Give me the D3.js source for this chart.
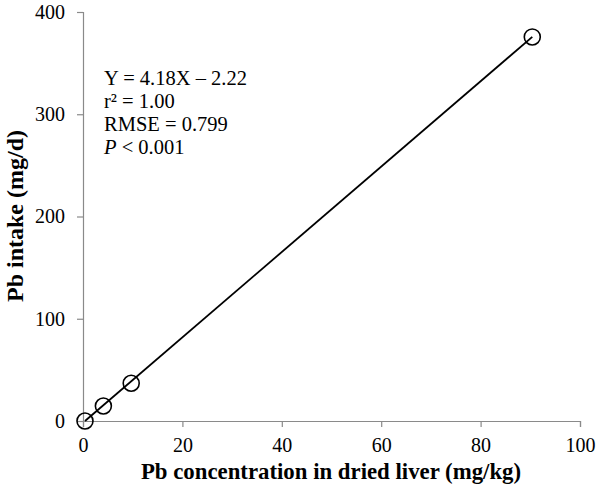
<!DOCTYPE html>
<html><head><meta charset="utf-8">
<script src="https://cdn.jsdelivr.net/npm/d3@7"></script>
<style>body{margin:0;background:#fff}svg{display:block}</style>
</head><body>
<svg id="c" width="600" height="494"></svg>
<script>
const concentration = [0.4, 4.1, 9.7, 90.4];
const intake = [0, 14.7, 36.9, 375.6];
const xTicks = [0, 20, 40, 60, 80, 100];
const yTicks = [0, 100, 200, 300, 400];
const slope = 4.18, intercept = -2.22;
const annotations = ["Y = 4.18X \u2013 2.22", "r\u00B2 = 1.00", "RMSE = 0.799", "P < 0.001"];
const xTitle = "Pb concentration in dried liver (mg/kg)";
const yTitle = "Pb intake (mg/d)";

const svg = d3.select("#c");
const font = "'Liberation Serif','Times New Roman',serif";
const x = d3.scaleLinear().domain([0, 100]).range([83, 580]);
const y = d3.scaleLinear().domain([0, 400]).range([421, 12]);
const grey = "#8a8a8a";

const xa = svg.append("g").attr("transform", `translate(0,${y(0)})`)
  .call(d3.axisBottom(x).tickValues(xTicks).tickSize(6).tickPadding(11));
const ya = svg.append("g").attr("transform", `translate(${x(0)},0)`)
  .call(d3.axisLeft(y).tickValues(yTicks).tickSize(6).tickPadding(12));
[xa, ya].forEach(a => {
  a.attr("font-family", font).attr("font-size", 20);
  a.select(".domain").attr("stroke", grey).attr("stroke-width", 1.2);
  a.selectAll(".tick line").attr("stroke", grey).attr("stroke-width", 1.2);
  a.selectAll(".tick text").attr("fill", "#000");
});

const ext = d3.extent(concentration);
svg.append("line")
  .attr("x1", x(ext[0])).attr("y1", y(Math.max(0, slope * ext[0] + intercept)))
  .attr("x2", x(ext[1])).attr("y2", y(slope * ext[1] + intercept))
  .attr("stroke", "#000").attr("stroke-width", 1.8);

svg.selectAll("circle.pt").data(concentration).join("circle")
  .attr("class", "pt")
  .attr("cx", d => x(d)).attr("cy", (d, i) => y(intake[i]))
  .attr("r", 8).attr("fill", "none").attr("stroke", "#000").attr("stroke-width", 1.6);

const ann = svg.append("g").attr("font-family", font).attr("font-size", 20.5);
annotations.forEach((t, i) => {
  const tx = ann.append("text").attr("x", 104).attr("y", 85 + i * 23);
  if (t.startsWith("P ")) {
    tx.append("tspan").attr("font-style", "italic").text("P");
    tx.append("tspan").text(t.slice(1));
  } else tx.text(t);
});

svg.append("text").attr("x", 331).attr("y", 479).attr("text-anchor", "middle")
  .attr("font-family", font).attr("font-size", 22.8).attr("font-weight", "bold").text(xTitle);
svg.append("text").attr("transform", "translate(23,216) rotate(-90)").attr("text-anchor", "middle")
  .attr("font-family", font).attr("font-size", 24).attr("font-weight", "bold").text(yTitle);
</script>
</body></html>
